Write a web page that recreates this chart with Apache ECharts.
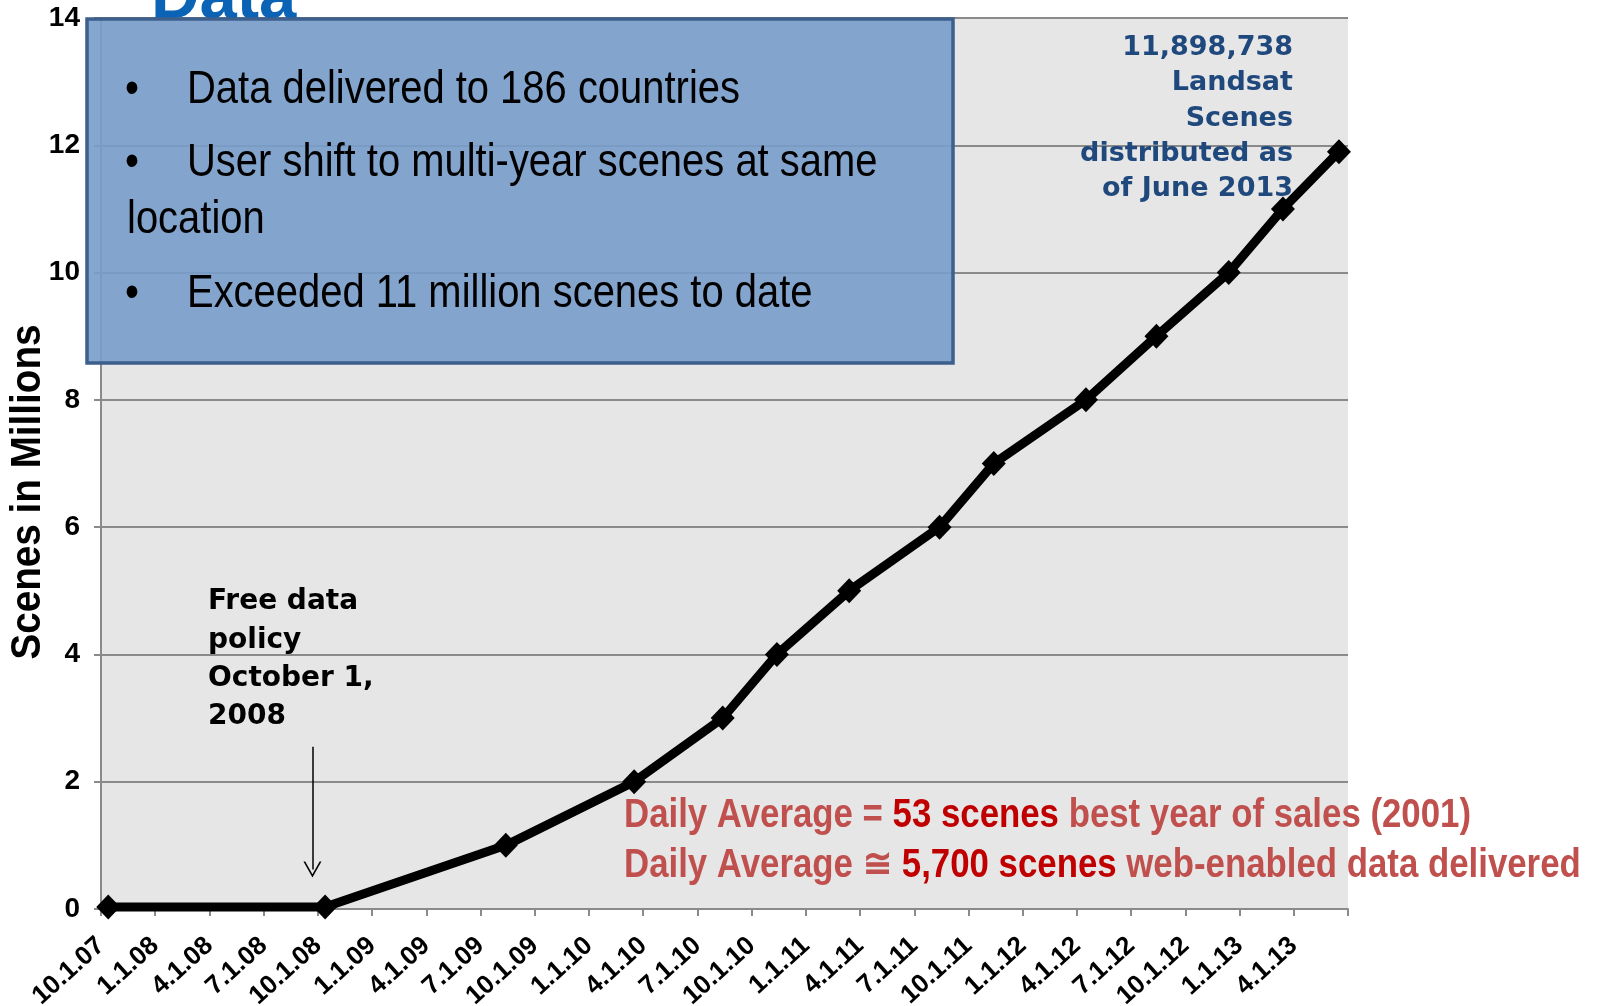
<!DOCTYPE html>
<html>
<head>
<meta charset="utf-8">
<title>Landsat scenes distributed</title>
<script src="https://cdn.jsdelivr.net/npm/echarts@6/dist/echarts.min.js"></script>
<style>
  html, body { margin: 0; padding: 0; background: #fff; }
  #chart { width: 1600px; height: 1006px; }
</style>
</head>
<body>
<div id="chart"></div>
<script>
// quarter tick labels (every 3 months from 10.1.07)
const tickLabels = ['10.1.07', '1.1.08', '4.1.08', '7.1.08', '10.1.08', '1.1.09', '4.1.09', '7.1.09',
  '10.1.09', '1.1.10', '4.1.10', '7.1.10', '10.1.10', '1.1.11', '4.1.11', '7.1.11', '10.1.11',
  '1.1.12', '4.1.12', '7.1.12', '10.1.12', '1.1.13', '4.1.13']
// months since 10.1.07 of each reading
const months = [0.4, 12.4, 22.4, 29.5, 34.4, 37.4, 41.4, 46.4, 49.4, 54.5, 58.4, 62.4, 65.4, 68.5]
// cumulative scenes, millions
const scenes = [0.03, 0.03, 1, 2, 3, 4, 5, 6, 7, 8, 9, 10, 11, 11.9]
const yTicks = [0, 2, 4, 6, 8, 10, 12, 14]

const bullets = [
  'Data delivered to 186 countries',
  'User shift to multi-year scenes at same',
  'Exceeded 11 million scenes to date'
]

const chart = echarts.init(document.getElementById('chart'))

const arial = '"Liberation Sans", Arial, sans-serif'
const verdana = '"DejaVu Sans", Verdana, sans-serif'

// the slide text is a condensed face, so squeeze Arial horizontally
function boxText(text, x, y) {
  return {
    type: 'text', z: 21, x: x, y: y, scaleX: 0.85,
    style: {
      text: text, x: 0, y: 0, textVerticalAlign: 'middle',
      fontFamily: arial, fontSize: 47, fill: '#000'
    }
  }
}

function redLine(text, y) {
  return {
    type: 'text', z: 10, x: 624, y: y, scaleX: 0.87,
    style: {
      text: text, x: 0, y: 0, textAlign: 'left', textVerticalAlign: 'middle',
      rich: {
        a: { fontFamily: arial, fontWeight: 'bold', fontSize: 40, fill: '#c0504d' },
        b: { fontFamily: arial, fontWeight: 'bold', fontSize: 40, fill: '#c00000' }
      }
    }
  }
}

chart.setOption({
  animation: false,
  backgroundColor: '#fff',
  grid: {
    left: 101, right: 252, top: 18, bottom: 97,
    outerBoundsMode: 'none',
    show: true, backgroundColor: '#e6e6e6', borderWidth: 0
  },
  xAxis: {
    type: 'value',
    min: 0, max: 69, interval: 3,
    axisLine: { show: true, lineStyle: { color: '#8a8a8a', width: 2 } },
    axisTick: { show: true, length: 7, lineStyle: { color: '#8a8a8a', width: 2 } },
    splitLine: { show: false },
    axisLabel: {
      rotate: 42, margin: 33,
      fontFamily: arial,
      fontWeight: 'bold', fontSize: 26, color: '#000',
      showMaxLabel: true,
      formatter: v => tickLabels[Math.round(v / 3)] || ''
    }
  },
  yAxis: {
    type: 'value',
    min: 0, max: 14, interval: 2,
    axisLine: { show: true, lineStyle: { color: '#8a8a8a', width: 2 } },
    axisTick: { show: true, length: 7, lineStyle: { color: '#8a8a8a', width: 2 } },
    splitLine: { show: true, lineStyle: { color: '#8a8a8a', width: 2 } },
    axisLabel: {
      margin: 21,
      fontFamily: arial,
      fontWeight: 'bold', fontSize: 28, color: '#000',
      formatter: v => yTicks.includes(v) ? String(v) : ''
    }
  },
  series: [{
    type: 'line',
    data: months.map((m, i) => [m, scenes[i]]),
    symbol: 'diamond',
    symbolSize: [24, 25],
    itemStyle: { color: '#000' },
    lineStyle: { color: '#000', width: 9 },
    z: 5,
    markLine: {
      silent: true,
      animation: false,
      label: { show: false },
      lineStyle: { color: '#000', width: 1.5, type: 'solid' },
      symbol: ['none', 'path://M0,10 L5,0 L10,10 L9,10 L5,2 L1,10 Z'],
      symbolSize: [18, 16],
      data: [[{ coord: [11.7, 2.55] }, { coord: [11.7, 0.62] }]]
    }
  }],
  graphic: [
    {
      type: 'text', z: 10,
      style: {
        text: 'Data', x: 151, y: 0,
        textAlign: 'left', textVerticalAlign: 'middle',
        fontFamily: arial, fontWeight: 'bold', fontSize: 67, fill: '#0b63b5'
      }
    },
    {
      type: 'rect', z: 20,
      shape: { x: 87, y: 19, width: 866, height: 344 },
      style: { fill: 'rgba(120,156,202,0.9)', stroke: '#3c5f8c', lineWidth: 3.5 }
    },
    boxText('\u2022', 125, 90),
    boxText(bullets[0], 187, 90),
    boxText('\u2022', 125, 163),
    boxText(bullets[1], 187, 163),
    boxText('location', 127, 220),
    boxText('\u2022', 125, 294),
    boxText(bullets[2], 187, 294),
    {
      type: 'text', z: 10,
      x: 28, y: 492, rotation: Math.PI / 2, scaleX: 0.92,
      style: {
        text: 'Scenes in Millions', x: 0, y: 0,
        textAlign: 'center', textVerticalAlign: 'middle',
        fontFamily: arial, fontWeight: 'bold', fontSize: 42, fill: '#000'
      }
    },
    {
      type: 'text', z: 10,
      style: {
        text: '11,898,738\nLandsat\nScenes\ndistributed as\nof June 2013',
        x: 1293, y: 118.5, textAlign: 'right', textVerticalAlign: 'middle',
        fontFamily: verdana, fontWeight: 'bold', fontSize: 27, lineHeight: 35.3, fill: '#1f497d'
      }
    },
    {
      type: 'text', z: 10,
      style: {
        text: 'Free data\npolicy\nOctober 1,\n2008',
        x: 208, y: 659.5, textAlign: 'left', textVerticalAlign: 'middle',
        fontFamily: verdana, fontWeight: 'bold', fontSize: 28, lineHeight: 38.3, fill: '#000'
      }
    },
    redLine('{a|Daily Average = }{b|53 scenes}{a| best year of sales (2001)}', 816),
    redLine('{a|Daily Average \u2245 }{b|5,700 scenes}{a| web-enabled data delivered}', 866)
  ]
})
</script>
</body>
</html>
